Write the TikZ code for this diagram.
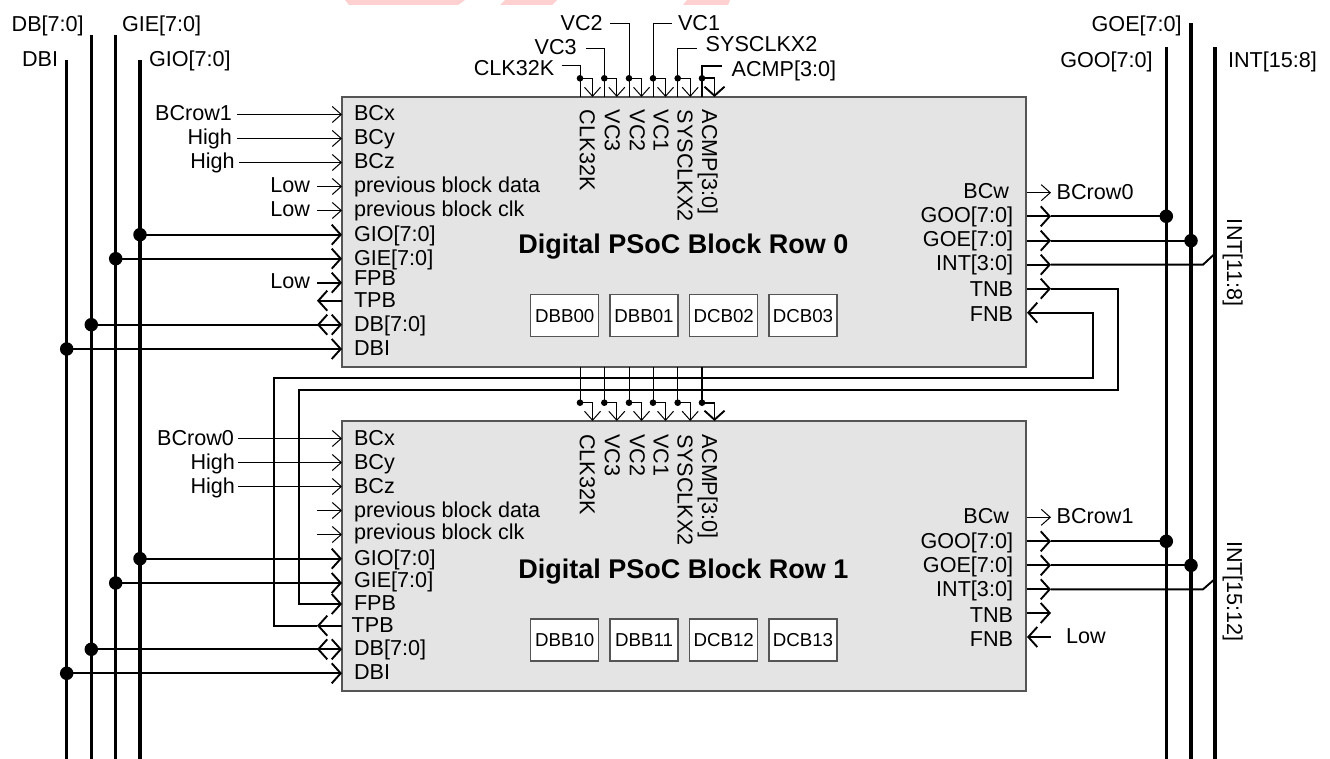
\documentclass[tikz,border=0pt]{standalone}
\usepackage{fontspec}
\setmainfont{Liberation Sans}
\usetikzlibrary{arrows.meta}
\definecolor{blockgray}{HTML}{E4E4E4}
\definecolor{blockline}{HTML}{555555}
\definecolor{pinkmark}{HTML}{FFD0D0}
\tikzset{
  x=1pt,y=-1pt,
  txt/.style={inner sep=0pt,outer sep=0pt,font=\fontsize{21.6}{24}\selectfont},
  ttl/.style={inner sep=0pt,outer sep=0pt,anchor=base west,font=\bfseries\fontsize{27}{30}\selectfont},
  block/.style={draw=blockline,line width=1.4pt,fill=blockgray,minimum width=684pt,minimum height=270pt,inner sep=0pt,outer sep=0pt},
  cell/.style={draw=blockline,line width=1.2pt,fill=white,minimum width=68pt,minimum height=42pt,inner sep=0pt,outer sep=0pt,font=\fontsize{18.7}{22}\selectfont},
  sig/.style={line width=1pt,color=black},
  busw/.style={line width=1.9pt,color=black},
  trunk/.style={line width=3.3pt,color=black},
  sigtip/.style={-{Straight Barb[length=9pt,width=16pt]}},
  bustip/.style={-{Straight Barb[length=9pt,width=20pt]}},
  bigdot/.style={circle,fill=black,minimum size=13.5pt,inner sep=0pt,outer sep=0pt},
  smalldot/.style={circle,fill=black,minimum size=6.6pt,inner sep=0pt,outer sep=0pt},
}
\begin{document}
\begin{tikzpicture}
\useasboundingbox (0,0) rectangle (1330,759);
% pink marks at the top edge
\fill[pinkmark] (345,0) -- (349,5) -- (458,5) -- (465,0) -- cycle;
\fill[pinkmark] (505,0) -- (500,5) -- (552,5) -- (557,0) -- cycle;
\fill[pinkmark] (687,0) -- (683,5) -- (728,5) -- (730,0) -- cycle;

% trunk lines
\foreach \n/\x/\y in {DBI/66.7/60,DB/91.3/35,GIE/115.7/35,GIO/140/60,GOO/1166.3/47,GOE/1191/23,INT/1215/47}{
  \coordinate (\n top) at (\x,\y);
  \coordinate (\n bot) at (\x,759);
  \draw[trunk] (\n top) -- (\n bot);
}
% trunk labels
\node[txt,anchor=base west] (tDB) at (11.7,31.7) {DB[7:0]};
\node[txt,anchor=base west] (tGIE) at (122,31.7) {GIE[7:0]};
\node[txt,anchor=base west] (tDBI) at (22,66.7) {DBI};
\node[txt,anchor=base west] (tGIO) at (149,66.7) {GIO[7:0]};
\node[txt,anchor=base east] (tGOE) at (1181.7,31.7) {GOE[7:0]};
\node[txt,anchor=base east] (tGOO) at (1152.7,67.5) {GOO[7:0]};
\node[txt,anchor=base west] (tINT) at (1228,67.5) {INT[15:8]};

% blocks
\node[block] (row0) at (684,232) {};
\node[block] (row1) at (684,556) {};
\node[ttl] (title0) at (518.3,254) {Digital PSoC Block Row 0};
\node[ttl] (title1) at (518.3,578) {Digital PSoC Block Row 1};
\foreach \n/\x/\t in {a/564.7/DBB00,b/644/DBB01,c/723.7/DCB02,d/803/DCB03}{
  \node[cell] (cell0\n) at (\x,315.7) {\t};
}
\foreach \n/\x/\t in {a/564.7/DBB10,b/644/DBB11,c/723.7/DCB12,d/803/DCB13}{
  \node[cell] (cell1\n) at (\x,640) {\t};
}

% left pin labels and ends, row 0
\foreach \n/\y/\b/\t in {x/114.5/121/BCx,y/138.5/145/BCy,z/162.5/169/BCz,pd/186.5/193/previous block data,pc/210.5/217/previous block clk,GIO/234.7/241.7/GIO[7:0],GIE/258.7/265.7/GIE[7:0],FPB/282.7/286/FPB,TPB/300.7/307/TPB,DB/324.7/331.7/DB[7:0],DBI/349/355.7/DBI}{
  \node[txt,anchor=base west] (L0\n) at (354,\b) {\t};
  \coordinate (E0\n) at (342,\y);
}
% left pin labels and ends, row 1
\foreach \n/\y/\b/\x/\t in {x/438.5/445/354/BCx,y/462.5/469/354/BCy,z/486.5/493/354/BCz,pd/510.5/517/354/previous block data,pc/534.5/539.5/354/previous block clk,GIO/558.7/565/354/GIO[7:0],GIE/583/587/354/GIE[7:0],FPB/604/610/354/FPB,TPB/625.7/632/351.7/TPB,DB/649.3/655/354/DB[7:0],DBI/673.3/679.3/354/DBI}{
  \node[txt,anchor=base west] (L1\n) at (\x,\b) {\t};
  \coordinate (E1\n) at (342,\y);
}
% right pin labels and ends
\foreach \n/\y/\b/\x/\t in {w/192.7/199/1009/BCw,GOO/216.3/222.7/1013/GOO[7:0],GOE/240.7/246.7/1013/GOE[7:0],INT/264.7/270.7/1013/INT[3:0],TNB/288.7/297/1013/TNB,FNB/312.7/321.7/1013/FNB}{
  \node[txt,anchor=base east] (R0\n) at (\x,\b) {\t};
  \coordinate (F0\n) at (1027,\y);
  \coordinate (T0\n) at (1051,\y);
}
\foreach \n/\y/\b/\x/\t in {w/517.3/523/1009/BCw,GOO/541.3/548/1013/GOO[7:0],GOE/565.3/572/1013/GOE[7:0],INT/589.3/596.7/1013/INT[3:0],TNB/613/622/1013/TNB,FNB/637/646/1013/FNB}{
  \node[txt,anchor=base east] (R1\n) at (\x,\b) {\t};
  \coordinate (F1\n) at (1027,\y);
  \coordinate (T1\n) at (1051,\y);
}

% single-signal inputs, left
\node[txt,anchor=base east] (sA) at (232,121) {BCrow1};
\node[txt,anchor=base east] (sB) at (232,145) {High};
\node[txt,anchor=base east] (sC) at (234.7,169) {High};
\node[txt,anchor=base east] (sD) at (310,193) {Low};
\node[txt,anchor=base east] (sE) at (310,217) {Low};
\node[txt,anchor=base east] (sF) at (310,289) {Low};
\coordinate (oA) at (237,114.5);
\coordinate (oB) at (237,138.5);
\coordinate (oC) at (239,162.5);
\coordinate (oD) at (317,186.5);
\coordinate (oE) at (317,210.5);
\coordinate (oF) at (317,282.7);
\draw[sig,sigtip] (oA) -- (E0x);
\draw[sig,sigtip] (oB) -- (E0y);
\draw[sig,sigtip] (oC) -- (E0z);
\draw[sig,sigtip] (oD) -- (E0pd);
\draw[sig,sigtip] (oE) -- (E0pc);
\draw[busw,bustip] (oF) -- (E0FPB);
\node[txt,anchor=base east] (uA) at (234,445) {BCrow0};
\node[txt,anchor=base east] (uB) at (235,469) {High};
\node[txt,anchor=base east] (uC) at (235,493) {High};
\coordinate (pA) at (238,438.5);
\coordinate (pB) at (238,462.5);
\coordinate (pC) at (238,486.5);
\coordinate (pD) at (317,510.5);
\coordinate (pE) at (317,534.5);
\draw[sig,sigtip] (pA) -- (E1x);
\draw[sig,sigtip] (pB) -- (E1y);
\draw[sig,sigtip] (pC) -- (E1z);
\draw[sig,sigtip] (pD) -- (E1pd);
\draw[sig,sigtip] (pE) -- (E1pc);

% trunk junctions, left
\node[bigdot] (j0GIO) at (140,234.7) {};
\node[bigdot] (j0GIE) at (115.7,258.7) {};
\node[bigdot] (j0DB) at (91.3,324.7) {};
\node[bigdot] (j0DBI) at (66.7,349) {};
\node[bigdot] (j1GIO) at (140,558.7) {};
\node[bigdot] (j1GIE) at (115.7,583) {};
\node[bigdot] (j1DB) at (91.3,649.3) {};
\node[bigdot] (j1DBI) at (66.7,673.3) {};
\foreach \r in {0,1}{
  \foreach \n in {GIO,GIE,DB,DBI}{
    \draw[busw,bustip] (j\r\n.center) -- (E\r\n);
  }
}
% second heads of DB and TPB
\coordinate (h0TPB) at (317,300.7);
\coordinate (h1TPB) at (317,625.7);
\coordinate (h0DB) at (317,324.7);
\coordinate (h1DB) at (317,649.3);
\coordinate (g0DB) at (330,324.7);
\coordinate (g1DB) at (330,649.3);
\draw[busw,bustip] (E0TPB) -- (h0TPB);
\draw[busw,bustip] (E1TPB) -- (h1TPB);
\draw[busw,bustip] (g0DB) -- (h0DB);
\draw[busw,bustip] (g1DB) -- (h1DB);

% right side
\node[txt,anchor=base west] (oW0) at (1056.7,200) {BCrow0};
\node[txt,anchor=base west] (oW1) at (1056.7,523) {BCrow1};
\node[txt,anchor=base west] (oLow) at (1066,643) {Low};
\draw[sig,sigtip] (F0w) -- (T0w);
\draw[sig,sigtip] (F1w) -- (T1w);
\node[bigdot] (j0GOO) at (1166.3,216.3) {};
\node[bigdot] (j0GOE) at (1191,240.7) {};
\node[bigdot] (j1GOO) at (1166.3,541.3) {};
\node[bigdot] (j1GOE) at (1191,565.3) {};
\foreach \r in {0,1}{
  \foreach \n in {GOO,GOE}{
    \draw[busw,bustip] (F\r\n) -- (T\r\n);
    \draw[busw] (T\r\n) -- (j\r\n.center);
  }
  \draw[busw,bustip] (F\r INT) -- (T\r INT);
  \draw[busw,bustip] (F\r TNB) -- (T\r TNB);
}
\coordinate (k0) at (1203,264.7);
\coordinate (m0) at (1214.5,254);
\coordinate (k1) at (1203,589.3);
\coordinate (m1) at (1214.5,579.3);
\draw[busw] (T0INT) -- (k0) -- (m0);
\draw[busw] (T1INT) -- (k1) -- (m1);
\node[txt,anchor=base west,rotate=-90] (v0) at (1227,219) {INT[11:8]};
\node[txt,anchor=base west,rotate=-90] (v1) at (1227,541) {INT[15:12]};
\draw[busw,bustip] (T1FNB) -- (F1FNB);

% feedback between the rows
\coordinate (c1) at (1117.7,288.7);
\coordinate (c2) at (1117.7,390);
\coordinate (c3) at (299,390);
\coordinate (c4) at (299,604);
\draw[busw,bustip] (T0TNB) -- (c1) -- (c2) -- (c3) -- (c4) -- (E1FPB);
\coordinate (d1) at (1093,312.7);
\coordinate (d2) at (1093,378);
\coordinate (d3) at (274,378);
\coordinate (d4) at (274,625.7);
\draw[busw,bustip] (h1TPB) -- (d4) -- (d3) -- (d2) -- (d1) -- (F0FNB);

% clocks on top of the blocks
\foreach \i/\x/\vx/\vy/\w/\a in {
  a/580/561.7/66/sig/sigtip,
  b/604.3/586/48.3/sig/sigtip,
  c/629/610/24/sig/sigtip,
  d/653/671.7/24/sig/sigtip,
  e/677.7/696.7/48.3/sig/sigtip,
  f/702/721.7/66/busw/bustip}{
  \coordinate (lead\i) at (\vx,\vy);
  \coordinate (top\i) at (\x,97);
  \coordinate (tip0\i) at ({\x+12.5},97);
  \coordinate (src\i) at (\x,367);
  \coordinate (tip1\i) at ({\x+12.5},421);
  \node[smalldot] (dot0\i) at (\x,78.3) {};
  \node[smalldot] (dot1\i) at (\x,402.7) {};
  \draw[\w] (lead\i) -| (top\i);
  \draw[\w,\a] (dot0\i.center) -| (tip0\i);
  \draw[\w] (src\i) -- (dot1\i.center);
  \draw[\w,\a] (dot1\i.center) -| (tip1\i);
}
\node[txt,anchor=base east] (cA) at (554.3,76) {CLK32K};
\node[txt,anchor=base east] (cB) at (576.7,54.5) {VC3};
\node[txt,anchor=base east] (cC) at (602.7,30.7) {VC2};
\node[txt,anchor=base west] (cD) at (678,30.7) {VC1};
\node[txt,anchor=base west] (cE) at (705.7,51.5) {SYSCLKX2};
\node[txt,anchor=base west] (cF) at (731.7,76.5) {ACMP[3:0]};
\foreach \r/\y in {0/110,1/434}{
  \foreach \n/\x/\t in {a/579.8/CLK32K,b/604.8/VC3,c/629.8/VC2,d/653.5/VC1,e/677.5/SYSCLKX2,f/702.2/ACMP[3:0]}{
    \node[txt,anchor=base west,rotate=-90] (ck\r\n) at (\x,\y) {\t};
  }
}
\end{tikzpicture}
\end{document}
